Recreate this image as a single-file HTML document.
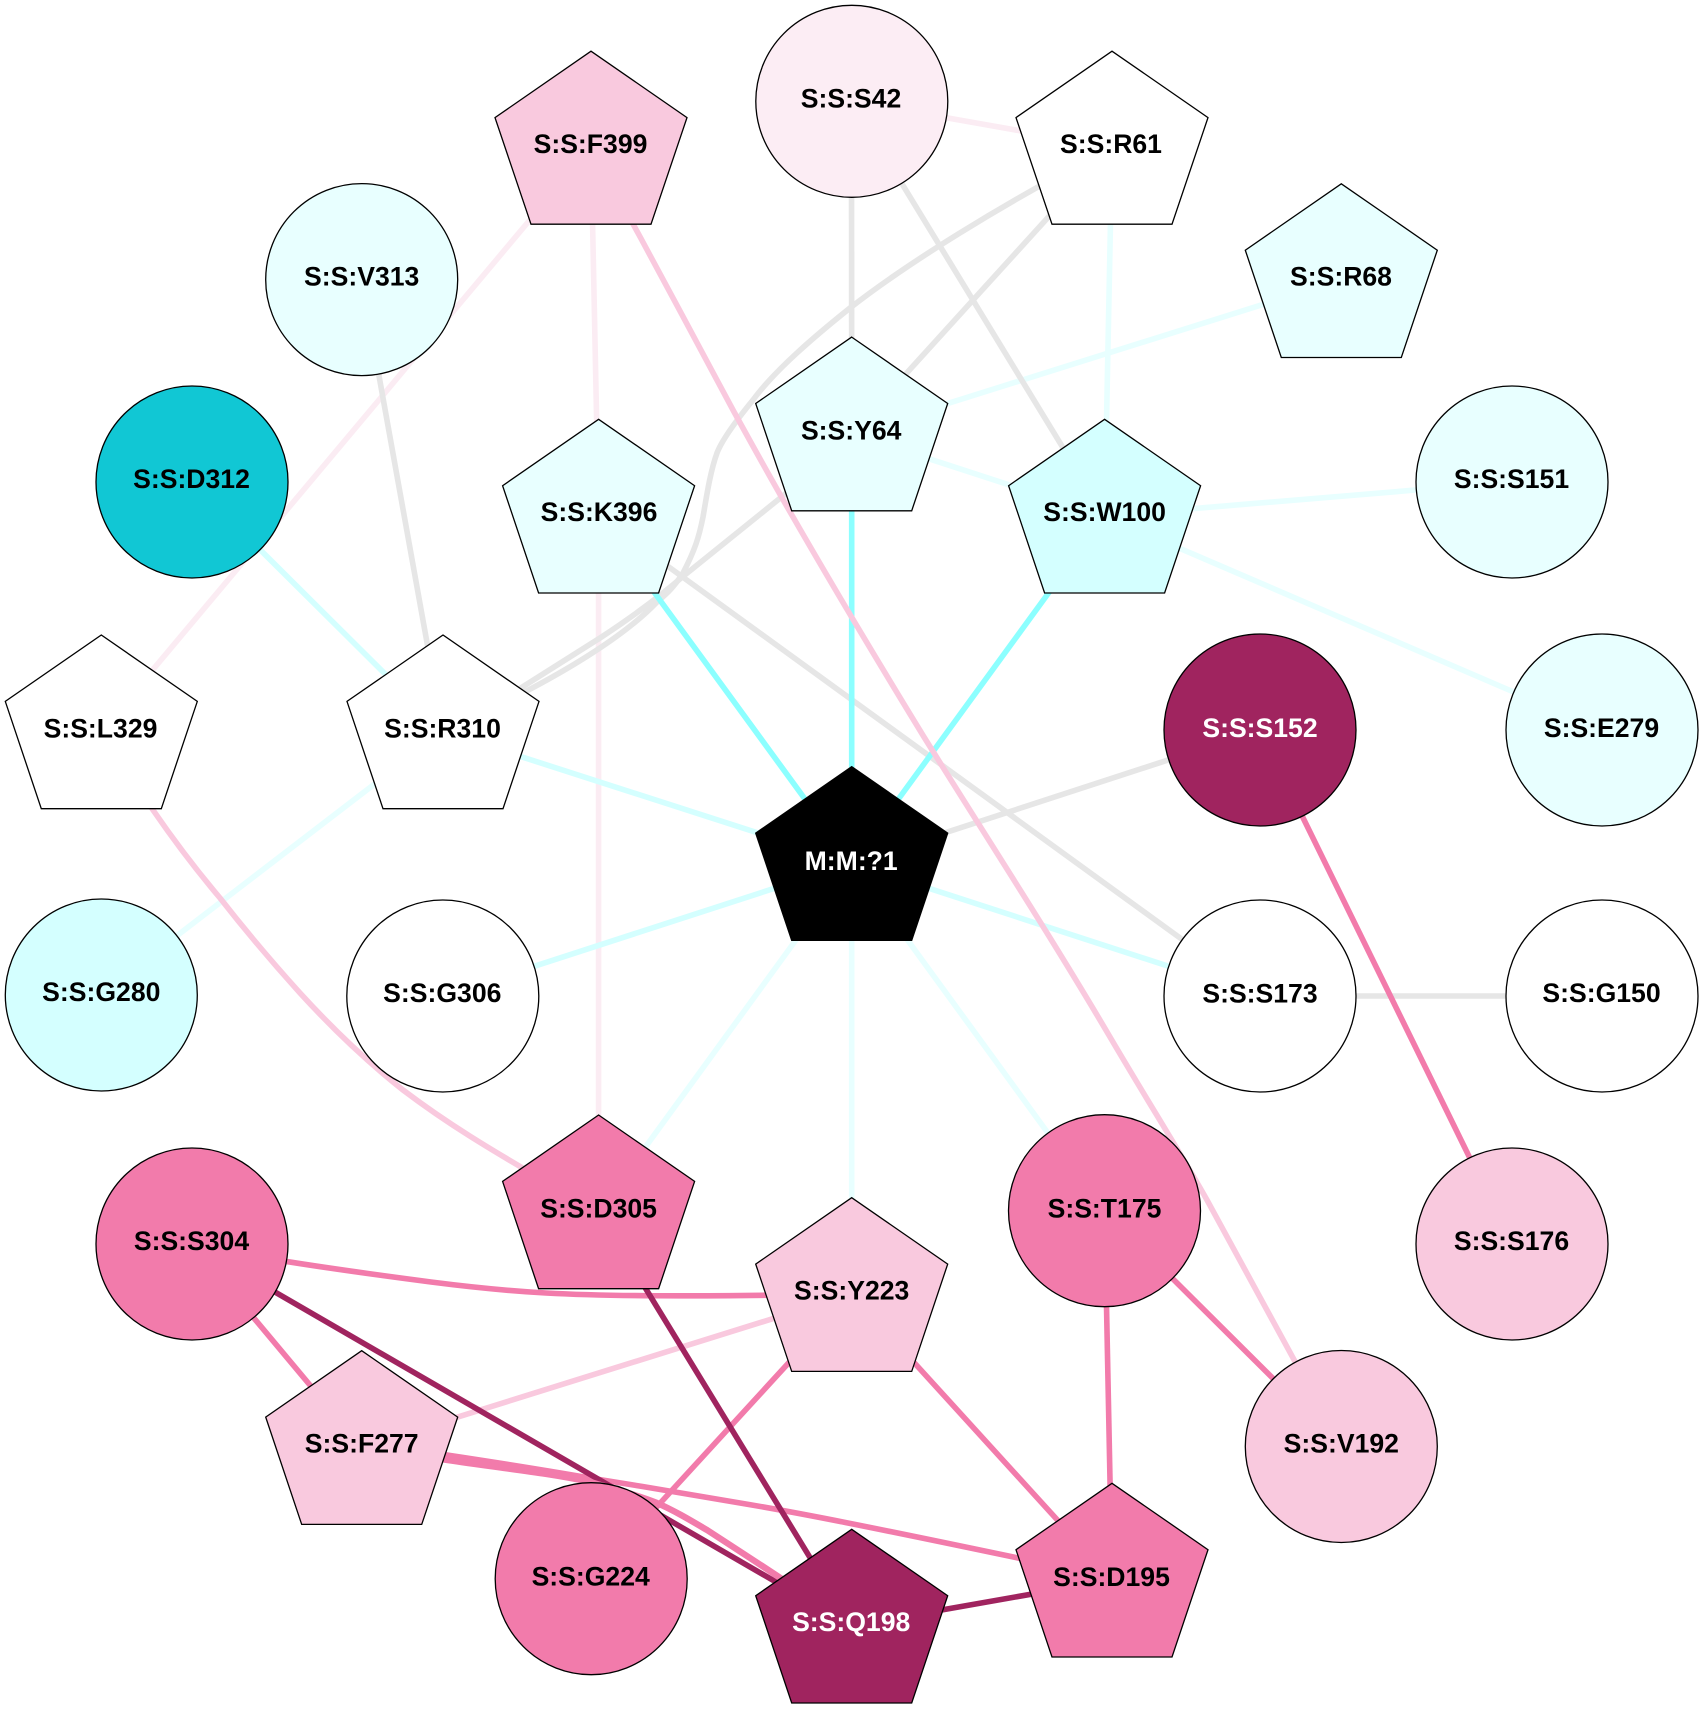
<!DOCTYPE html>
<html><head><meta charset="utf-8"><style>
html,body{margin:0;padding:0;background:#fff}
svg{display:block}
text{font-family:"Liberation Sans",Arial,sans-serif;font-weight:bold;font-size:26.6px;text-anchor:middle;fill:#000}
.w{fill:#fff}
.n *{stroke:#000;stroke-width:1.3}
.n text{stroke:none}
</style></head><body>
<svg width="1703" height="1726" viewBox="0 0 1703 1726" xmlns="http://www.w3.org/2000/svg">
<rect width="1703" height="1726" fill="#fff"/>
<g fill="none" stroke-width="5.6" stroke-linejoin="round">
<!-- light pink -->
<g stroke="#fbecf3">
<line x1="851.5" y1="101" x2="1112" y2="147"/>
<line x1="591" y1="147" x2="598.6" y2="516"/>
<line x1="591" y1="147" x2="101" y2="731.5"/>
<line x1="598.6" y1="516" x2="598.6" y2="1211.5"/>
</g>
<!-- lightest cyan -->
<g stroke="#e8ffff">
<line x1="1112" y1="147" x2="1104.6" y2="516"/>
<line x1="1341" y1="280" x2="851.7" y2="433.6"/>
<line x1="851.7" y1="433.6" x2="1104.6" y2="516"/>
<line x1="1104.6" y1="516" x2="1512" y2="482"/>
<line x1="1104.6" y1="516" x2="1602" y2="730"/>
<line x1="443" y1="731.5" x2="101" y2="994"/>
<line x1="851.7" y1="863.2" x2="598.6" y2="1211.5"/>
<line x1="851.7" y1="863.2" x2="851.7" y2="1294"/>
<line x1="851.7" y1="863.2" x2="1104.6" y2="1211"/>
</g>
<!-- light cyan -->
<g stroke="#d4ffff">
<line x1="443" y1="731.5" x2="851.7" y2="863.2"/>
<line x1="442.8" y1="996" x2="851.7" y2="863.2"/>
<line x1="1260" y1="996" x2="851.7" y2="863.2"/>
<line x1="192" y1="482" x2="443" y2="731.5"/>
</g>
<!-- gray -->
<g stroke="#e6e6e6">
<line x1="851.5" y1="101" x2="851.7" y2="433.6"/>
<line x1="851.5" y1="101" x2="1104.6" y2="516"/>
<line x1="1112" y1="147" x2="851.7" y2="433.6"/>
<path d="M1112,147 C1000,205 905,265 850,308 C815,336 775,370 753,400 C735,422 722,440 717,453 C710,472 706,500 703,517 C699,537 695,550 683,573 C672,590 665,595 656,603 C630,630 570,675 443,731"/>
<path d="M851,441 L683,576.4 C665,592 635,615 600,638 L443,737"/>
<line x1="361.7" y1="279.6" x2="443" y2="731.5"/>
<line x1="598.6" y1="516" x2="1260" y2="996"/>
<line x1="851.7" y1="863.2" x2="1260" y2="730"/>
<line x1="1260" y1="996" x2="1602" y2="996"/>
</g>
<!-- bright cyan -->
<g stroke="#8cffff">
<line x1="598.6" y1="516" x2="851.7" y2="863.2"/>
<line x1="851.7" y1="433.6" x2="851.7" y2="863.2"/>
<line x1="1104.6" y1="516" x2="851.7" y2="863.2"/>
</g>
<!-- pink -->
<g stroke="#f9c9de">
<path d="M591,147 L640,236.7 C670,292 705,358 733,410 C755,450 775,486 793,517 C835,590 880,665 924,737 C985,835 1050,935 1110,1037 C1150,1105 1180,1152 1207,1200 C1235,1250 1265,1308 1341,1446"/>
<path d="M101,731 L153,810 C175,842 198,872 220,898 C245,930 272,962 300,993 C332,1028 365,1060 403,1090 C440,1118 480,1145 598,1211"/>
<line x1="851.7" y1="1294" x2="361.7" y2="1447"/>
</g>
<!-- deep pink -->
<g stroke="#f27bab">
<line x1="1260" y1="730" x2="1512" y2="1244"/>
<path d="M192,1244 L287.8,1261.7 C340,1270 385,1276 431,1282 C470,1287 510,1291 546,1293 C600,1296 680,1297 851,1294"/>
<line x1="192" y1="1244" x2="361.7" y2="1447"/>
<path d="M361.7,1442 L447,1455 C500,1463 550,1471 590,1478 C640,1486 700,1496 740,1503 C800,1513 870,1527 1018,1558 L1112,1578"/>
<line x1="851.7" y1="1294" x2="591" y2="1578.7"/>
<line x1="851.7" y1="1294" x2="1112" y2="1580"/>
<line x1="1104.6" y1="1211" x2="1112" y2="1580"/>
<line x1="1104.6" y1="1211" x2="1341" y2="1446"/>
</g>
<!-- dark magenta -->
<g stroke="#a0245f">
<line x1="192" y1="1244" x2="851.7" y2="1625.8"/>
<line x1="598.6" y1="1211.5" x2="851.7" y2="1625.8"/>
<line x1="851.7" y1="1625.8" x2="1112" y2="1580"/>
</g>
<path stroke="#f27bab" stroke-width="6.4" d="M361.7,1447 L447,1460 C500,1468 550,1473 590,1482 C610,1488 635,1494 657,1503 C675,1511 690,1520 707,1530 C730,1545 800,1590 851,1626"/>
</g>
<g class="n">
<!-- circles -->
<circle cx="851.8" cy="101.3" r="96" fill="#fcedf4"/><text x="851" y="107.5">S:S:S42</text>
<circle cx="361.7" cy="279.6" r="96" fill="#e8ffff"/><text x="361.7" y="285.6">S:S:V313</text>
<circle cx="192" cy="482" r="96" fill="#11c7d4"/><text x="191.5" y="488">S:S:D312</text>
<circle cx="1512" cy="482" r="96" fill="#e8ffff"/><text x="1511.5" y="488">S:S:S151</text>
<circle cx="1602" cy="730" r="96" fill="#e8ffff"/><text x="1601.5" y="737">S:S:E279</text>
<circle cx="1260" cy="730" r="96" fill="#a0245f"/><text class="w" x="1260" y="737">S:S:S152</text>
<circle cx="101.3" cy="995" r="96" fill="#d4ffff"/><text x="101.3" y="1001">S:S:G280</text>
<circle cx="442.8" cy="996" r="96" fill="#fff"/><text x="442.3" y="1002">S:S:G306</text>
<circle cx="1260" cy="996" r="96" fill="#fff"/><text x="1260" y="1002.4">S:S:S173</text>
<circle cx="1602" cy="996" r="96" fill="#fff"/><text x="1601.5" y="1002">S:S:G150</text>
<circle cx="192" cy="1244" r="96" fill="#f27bab"/><text x="191.5" y="1250">S:S:S304</text>
<circle cx="1104.5" cy="1210.7" r="96" fill="#f27bab"/><text x="1104.5" y="1217.3">S:S:T175</text>
<circle cx="1512" cy="1244" r="96" fill="#f9c9de"/><text x="1511.5" y="1250">S:S:S176</text>
<circle cx="1341.3" cy="1446.5" r="96" fill="#f9c9de"/><text x="1341.3" y="1452.5">S:S:V192</text>
<circle cx="591.2" cy="1578.7" r="96" fill="#f27bab"/><text x="590.7" y="1585.7">S:S:G224</text>
<!-- pentagons -->
<polygon transform="translate(591,51.2)" points="0,0 96,66.4 60,173 -60,173 -96,66.4" fill="#f9c9de"/><text x="590.5" y="153">S:S:F399</text>
<polygon transform="translate(1112,51.2)" points="0,0 96,66.4 60,173 -60,173 -96,66.4" fill="#fff"/><text x="1111" y="153">S:S:R61</text>
<polygon transform="translate(1341.3,183.8)" points="0,0 96,66.4 60,173.7 -60,173.7 -96,66.4" fill="#e8ffff"/><text x="1341" y="285.5">S:S:R68</text>
<polygon transform="translate(851.7,337.1)" points="0,0 96,66.4 60,173.7 -60,173.7 -96,66.4" fill="#e8ffff"/><text x="851.2" y="439.3">S:S:Y64</text>
<polygon transform="translate(598.6,419.3)" points="0,0 96,66.4 60,173.7 -60,173.7 -96,66.4" fill="#e8ffff"/><text x="599" y="521">S:S:K396</text>
<polygon transform="translate(1104.6,419.3)" points="0,0 96,66.4 60,173.7 -60,173.7 -96,66.4" fill="#d4ffff"/><text x="1104.6" y="521">S:S:W100</text>
<polygon transform="translate(101.3,635)" points="0,0 96,66.4 60,173.7 -60,173.7 -96,66.4" fill="#fff"/><text x="100.5" y="737.5">S:S:L329</text>
<polygon transform="translate(443,635)" points="0,0 96,66.4 60,173.7 -60,173.7 -96,66.4" fill="#fff"/><text x="442.5" y="737.5">S:S:R310</text>
<polygon transform="translate(851.7,766.7)" points="0,0 96,66.4 60,173.7 -60,173.7 -96,66.4" fill="#000"/><text class="w" x="851.2" y="869.8">M:M:?1</text>
<polygon transform="translate(598.6,1115)" points="0,0 96,66.4 60,173.7 -60,173.7 -96,66.4" fill="#f27bab"/><text x="598.6" y="1217.5">S:S:D305</text>
<polygon transform="translate(851.7,1197.7)" points="0,0 96,66.4 60,173.7 -60,173.7 -96,66.4" fill="#f9c9de"/><text x="851.7" y="1299.4">S:S:Y223</text>
<polygon transform="translate(361.7,1350.7)" points="0,0 96,66.4 60,173.7 -60,173.7 -96,66.4" fill="#f9c9de"/><text x="361.7" y="1452.4">S:S:F277</text>
<polygon transform="translate(1112,1483.3)" points="0,0 96,66.4 60,173.7 -60,173.7 -96,66.4" fill="#f27bab"/><text x="1111.5" y="1585.8">S:S:D195</text>
<polygon transform="translate(851.7,1529.3)" points="0,0 96,66.4 60,173.7 -60,173.7 -96,66.4" fill="#a0245f"/><text class="w" x="851.2" y="1631">S:S:Q198</text>
</g>
</svg>
</body></html>
